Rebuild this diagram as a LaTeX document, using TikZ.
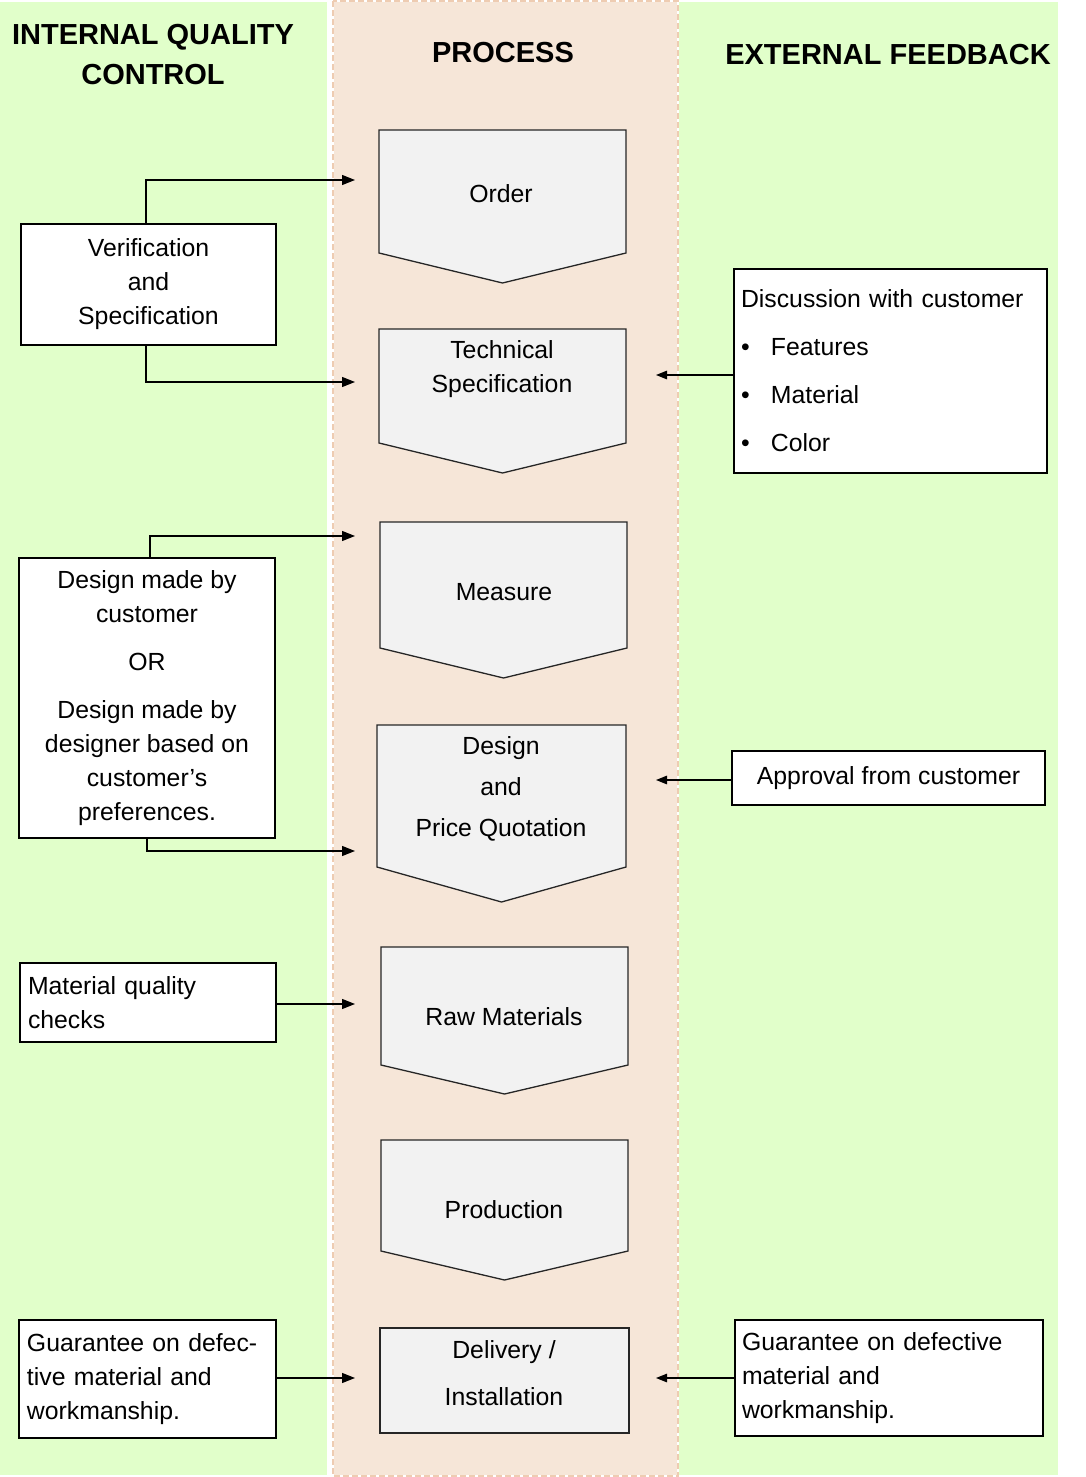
\documentclass[tikz,border=0pt]{standalone}
\usepackage{fontspec}
\setmainfont{Liberation Sans}
\usetikzlibrary{arrows.meta,calc}
\definecolor{lgreen}{RGB}{225,255,202}
\definecolor{peach}{RGB}{246,230,216}
\definecolor{peachdash}{RGB}{238,204,178}
\definecolor{procfill}{RGB}{242,242,242}
\newcommand\txtfont{\fontsize{24.8}{34}\selectfont}
\newcommand\procshape[6]{%
  \path (#2,#4) coordinate (#1-nw) (#3,#4) coordinate (#1-ne) (#3,#5) coordinate (#1-se)
        ({(#2+#3)/2},#6) coordinate (#1-tip) (#2,#5) coordinate (#1-sw);
  \draw[proc] (#1-nw) -- (#1-ne) -- (#1-se) -- (#1-tip) -- (#1-sw) -- cycle;}
\begin{document}
\begin{tikzpicture}[x=1pt,y=-1pt,
  proc/.style={draw=black!85, line width=1.3pt, fill=procfill, line join=miter},
  ptext/.style={font=\txtfont, align=center, inner sep=0pt},
  box/.style={draw=black, line width=1.6pt, fill=white, font=\txtfont, inner sep=0pt},
  head/.style={font=\bfseries\fontsize{29}{40}\selectfont, align=center, inner sep=0pt},
  conn/.style={line width=1.3pt, -{Triangle[length=13pt,width=10pt]}},
  connr/.style={line width=1.3pt, -{Triangle[length=11pt,width=8.5pt]}}]
\useasboundingbox (0,0) rectangle (1086,1477);
% backgrounds
\fill[lgreen] (0,2) rectangle (327,1475);
\fill[lgreen] (679,2) rectangle (1058,1475);
\fill[peach] (333,1) rectangle (678,1476);
\draw[white, line width=1.6pt] (333,1) rectangle (678,1476);
\draw[peachdash, line width=1.6pt, dash pattern=on 6pt off 3pt] (333,1) rectangle (678,1476);
% headers
\node[head] (hint) at (153,55) {INTERNAL QUALITY\\CONTROL};
\node[head] (hproc) at (503,53) {PROCESS};
\node[head] (hext) at (888,55) {EXTERNAL FEEDBACK};
% process shapes
\procshape{order}{379}{626}{130}{253}{283}
\procshape{tech}{379}{626}{329}{443}{473}
\procshape{meas}{380}{627}{522}{648}{678}
\procshape{desq}{377}{626}{725}{867}{902}
\procshape{raw}{381}{628}{947}{1065}{1094}
\procshape{prod}{381}{628}{1140}{1251}{1280}
\draw[proc] (380,1328) coordinate (deliv-nw) rectangle (629,1433) coordinate (deliv-se);
\node[ptext] (ordert) at (501,194) {Order};
\node[ptext] (techt) at (502,369) {Technical\\Specification};
\node[ptext] (meast) at (504,592) {Measure};
\node[ptext, font=\fontsize{24.8}{41}\selectfont] (desqt) at (501,789) {Design\\and\\Price Quotation};
\node[ptext] (rawt) at (504,1017) {Raw Materials};
\node[ptext] (prodt) at (504,1210) {Production};
\node[ptext, font=\fontsize{24.8}{47}\selectfont] (delivt) at (504,1373.5) {Delivery /\\Installation};
% left boxes
\node[box, minimum width=255, minimum height=121, align=center] (verif) at (148.5,284.5) {Verification\\and\\Specification};
\node[box, minimum width=256, minimum height=280, align=center] (dsgn) at (147,698) {Design made by\\customer\\[14pt]OR\\[14pt]Design made by\\designer based on\\customer’s\\preferences.};
\node[box, text width=240, inner xsep=8pt, minimum height=79, align=left] (matq) at (148,1002.5) {Material quality\\checks};
\node[box, text width=241, inner xsep=8pt, minimum height=118, align=left] (guarl) at (147.5,1379) {Guarantee on defec-\\tive material and\\workmanship.};
% right boxes
\node[box, text width=299, inner xsep=7pt, minimum height=204, align=left, font=\fontsize{24.8}{48}\selectfont] (disc) at (890.5,371)
  {Discussion with customer\\\makebox[30pt][l]{\textbullet}Features\\\makebox[30pt][l]{\textbullet}Material\\\makebox[30pt][l]{\textbullet}Color};
\node[box, minimum width=313, minimum height=54, align=center] (appr) at (888.5,778) {Approval from customer};
\node[box, text width=294, inner xsep=7pt, minimum height=116, align=left] (guarr) at (889,1378) {Guarantee on defective\\material and\\workmanship.};
% connector ends
\coordinate (a1) at (355,180);
\coordinate (a2) at (355,382);
\coordinate (a3) at (355,536);
\coordinate (a4) at (355,851);
\coordinate (a5) at (355,1004);
\coordinate (a6) at (355,1378);
\coordinate (b1) at (656,375);
\coordinate (b2) at (656,780);
\coordinate (b3) at (656,1378);
% connectors
\draw[conn] ([xshift=-2.5pt]verif.north) |- (a1);
\draw[conn] ([xshift=-2.5pt]verif.south) |- (a2);
\draw[conn] ([xshift=3pt]dsgn.north) |- (a3);
\draw[conn] (dsgn.south) |- (a4);
\draw[conn] (matq.east |- a5) -- (a5);
\draw[conn] (guarl.east |- a6) -- (a6);
\draw[connr] (disc.west |- b1) -- (b1);
\draw[connr] (appr.west |- b2) -- (b2);
\draw[connr] (guarr.west |- b3) -- (b3);
\end{tikzpicture}
\end{document}
